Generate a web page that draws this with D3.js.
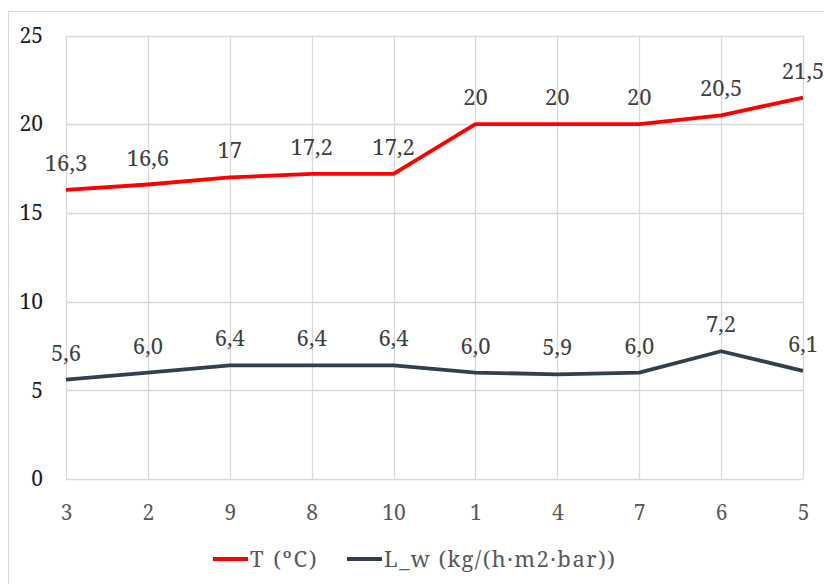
<!DOCTYPE html>
<html>
<head>
<meta charset="utf-8">
<script src="https://cdn.jsdelivr.net/npm/d3@7"></script>
<style>
  html, body { margin: 0; padding: 0; background: #fff; }
</style>
</head>
<body>
<svg id="chart" width="824" height="584"></svg>
<script>
// Sample order along the x axis
const categories = ["3", "2", "9", "8", "10", "1", "4", "7", "6", "5"];
// Temperature (ºC)
const tempValues = [16.3, 16.6, 17, 17.2, 17.2, 20, 20, 20, 20.5, 21.5];
const tempLabels = ["16,3", "16,6", "17", "17,2", "17,2", "20", "20", "20", "20,5", "21,5"];
// Water permeability L_w (kg/(h·m2·bar))
const lwValues = [5.6, 6.0, 6.4, 6.4, 6.4, 6.0, 5.9, 6.0, 7.2, 6.1];
const lwLabels = ["5,6", "6,0", "6,4", "6,4", "6,4", "6,0", "5,9", "6,0", "7,2", "6,1"];
const yTicks = [0, 5, 10, 15, 20, 25];
const seriesNames = ["T (ºC)", "L_w (kg/(h·m2·bar))"];

const FONT = '"Noto Serif", "Liberation Serif", serif';

const svg = d3.select("#chart").style("font-family", FONT);
const W = 824, H = 584;
const plot = { left: 66, right: 803, top: 35.5, bottom: 479 };

// Chart frame
svg.append("rect")
  .attr("x", 8.5).attr("y", 11.5)
  .attr("width", W - 8).attr("height", H)
  .attr("fill", "#fff").attr("stroke", "#d9d9d9").attr("stroke-width", 1);

const x = d3.scalePoint().domain(categories).range([plot.left, plot.right]);
const y = d3.scaleLinear().domain([0, 25]).range([plot.bottom, plot.top]);

// Gridlines
const grid = svg.append("g");
grid.selectAll("line.h").data(yTicks).join("line")
  .attr("class", "h")
  .attr("x1", plot.left).attr("x2", plot.right)
  .attr("y1", d => Math.round(y(d)) + 0.5).attr("y2", d => Math.round(y(d)) + 0.5)
  .attr("stroke", "#d9d9d9").attr("stroke-width", 1.3);
grid.selectAll("line.v").data(categories).join("line")
  .attr("class", "v")
  .attr("x1", d => Math.round(x(d)) + 0.5).attr("x2", d => Math.round(x(d)) + 0.5)
  .attr("y1", plot.top).attr("y2", plot.bottom)
  .attr("stroke", "#d9d9d9").attr("stroke-width", 1.3);

// Y axis
const yAxis = svg.append("g")
  .attr("transform", `translate(${plot.left},0)`)
  .call(d3.axisLeft(y).tickValues(yTicks).tickSize(0).tickPadding(23));
yAxis.select(".domain").remove();
yAxis.selectAll("text")
  .style("font-family", FONT).style("font-size", "21px")
  .attr("fill", "#1a1a1a");

// X axis
const xAxis = svg.append("g")
  .attr("transform", `translate(0,${plot.bottom})`)
  .call(d3.axisBottom(x).tickSize(0).tickPadding(26));
xAxis.select(".domain").remove();
xAxis.selectAll("text")
  .style("font-family", FONT).style("font-size", "21px")
  .attr("fill", "#595959");

// Lines with data labels
const colors = ["#ff0000", "#323f4f"];
const series = [
  { values: tempValues, labels: tempLabels, color: colors[0] },
  { values: lwValues, labels: lwLabels, color: colors[1] }
];
const line = d3.line().x((d, i) => x(categories[i])).y(d => y(d));

series.forEach(s => {
  svg.append("path")
    .datum(s.values)
    .attr("d", line)
    .attr("fill", "none")
    .attr("stroke", s.color)
    .attr("stroke-width", 3.8)
    .attr("stroke-linejoin", "round");

  svg.append("g").selectAll("text").data(s.values).join("text")
    .attr("x", (d, i) => x(categories[i]))
    .attr("y", d => y(d) - 19)
    .attr("text-anchor", "middle")
    .style("font-family", FONT).style("font-size", "22px")
    .attr("fill", "#404040")
    .text((d, i) => s.labels[i]);
});

// Legend
const legend = svg.append("g");
const legendItems = [
  { name: seriesNames[0], color: colors[0], x0: 213, spacing: 2 },
  { name: seriesNames[1], color: colors[1], x0: 347, spacing: 1.5 }
];
legendItems.forEach(it => {
  legend.append("line")
    .attr("x1", it.x0).attr("x2", it.x0 + 35)
    .attr("y1", 559).attr("y2", 559)
    .attr("stroke", it.color).attr("stroke-width", 3.8);
  legend.append("text")
    .attr("x", it.x0 + 37).attr("y", 567)
    .style("font-family", FONT).style("font-size", "22px")
    .style("letter-spacing", it.spacing + "px")
    .attr("fill", "#595959")
    .text(it.name);
});
</script>
</body>
</html>
